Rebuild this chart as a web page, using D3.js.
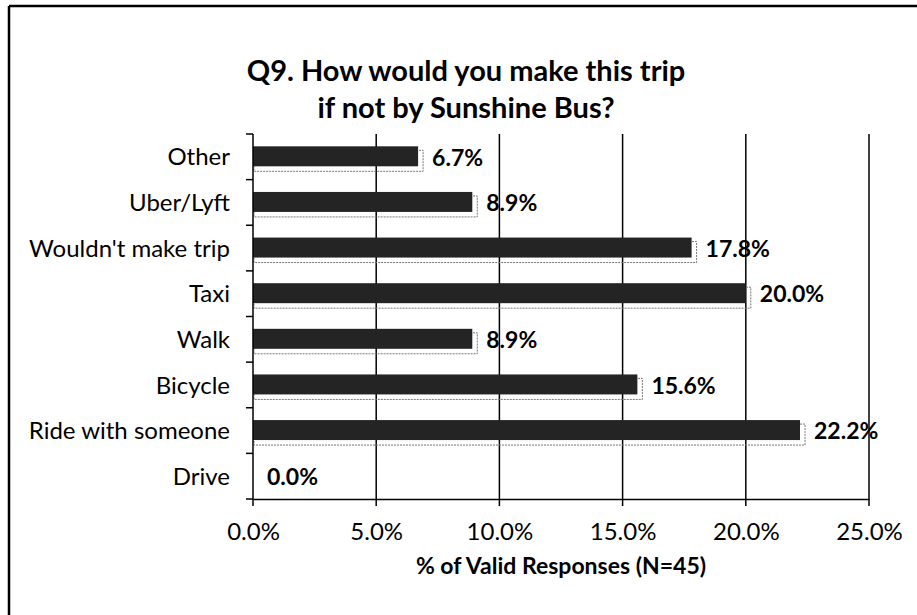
<!DOCTYPE html>
<html>
<head>
<meta charset="utf-8">
<script src="https://cdn.jsdelivr.net/npm/d3@7"></script>
<style>
  body { margin: 0; background: #fff; }
  svg text { font-family: Lato, "Open Sans", sans-serif; fill: #000; }
</style>
</head>
<body>
<div id="chart"></div>
<script>
const categories = ["Other", "Uber/Lyft", "Wouldn't make trip", "Taxi", "Walk", "Bicycle", "Ride with someone", "Drive"];
const values = [6.7, 8.9, 17.8, 20.0, 8.9, 15.6, 22.2, 0.0];
const xTicks = [0, 5, 10, 15, 20, 25];
const titleLines = ["Q9. How would you make this trip", "if not by Sunshine Bus?"];
const xTitle = "% of Valid Responses (N=45)";

const w = 917, h = 615;
const plot = { left: 253, right: 869, top: 134, bottom: 499 };

const svg = d3.select('#chart')
    .append('svg')
    .attr('width', w)
    .attr('height', h);

// chart frame (only top and left edges show in the scan)
svg.append('line')
    .attr('x1', 9).attr('x2', w).attr('y1', 6).attr('y2', 6)
    .attr('stroke', '#000').attr('stroke-width', 2.5);
svg.append('line')
    .attr('x1', 9).attr('x2', 9).attr('y1', 6).attr('y2', h)
    .attr('stroke', '#000').attr('stroke-width', 2.5);

// title
svg.append('text')
    .attr('text-anchor', 'middle')
    .style('font-size', '29px')
    .style('font-weight', 'bold')
    .selectAll('tspan')
    .data(titleLines)
    .enter()
    .append('tspan')
        .attr('x', 466)
        .attr('y', (d, i) => 81 + i * 37)
        .text(d => d);

const x = d3.scaleLinear()
    .domain([0, 25])
    .range([plot.left, plot.right]);

const y = d3.scaleBand()
    .domain(categories)
    .range([plot.top, plot.bottom])
    .paddingInner(0.54)
    .paddingOuter(0.27);

// vertical gridlines (they run a little below the axis as tick marks)
svg.append('g')
    .selectAll('line')
    .data(xTicks.filter(d => d > 0))
    .enter()
    .append('line')
        .attr('x1', d => x(d)).attr('x2', d => x(d))
        .attr('y1', plot.top).attr('y2', plot.bottom + 7)
        .attr('stroke', '#000').attr('stroke-width', 1.5);

// bars: a faint dotted shadow then the dark bar
const bars = svg.append('g')
    .selectAll('g')
    .data(values)
    .enter()
    .append('g');

bars.filter(d => d > 0)
    .append('rect')
        .attr('x', x(0) + 1)
        .attr('y', (d, i) => y(categories[i]) + 4)
        .attr('width', d => x(d) - x(0) + 4)
        .attr('height', y.bandwidth())
        .attr('fill', 'none')
        .attr('stroke', '#777')
        .attr('stroke-width', 1)
        .attr('stroke-dasharray', '2,1');

bars.append('rect')
    .attr('x', x(0))
    .attr('y', (d, i) => y(categories[i]))
    .attr('width', d => x(d) - x(0))
    .attr('height', y.bandwidth() - 1)
    .attr('fill', '#242424');

// value labels
bars.append('text')
    .attr('x', d => x(d) + 14)
    .attr('y', (d, i) => y(categories[i]) + y.bandwidth() / 2)
    .attr('dy', '0.38em')
    .style('font-size', '23px')
    .style('font-weight', 'bold')
    .text(d => d.toFixed(1) + '%');

// y axis
const yAxis = d3.axisLeft(y).tickSize(0).tickPadding(23);
const yG = svg.append('g')
    .attr('transform', `translate(${plot.left}, 0)`)
    .call(yAxis);
yG.select('.domain').remove();
yG.selectAll('text')
    .style('font-size', '24px')
    .attr('dy', '0.36em');

// y axis line with boundary ticks
svg.append('line')
    .attr('x1', plot.left).attr('x2', plot.left)
    .attr('y1', plot.top).attr('y2', plot.bottom + 7)
    .attr('stroke', '#000').attr('stroke-width', 1.5);
const step = (plot.bottom - plot.top) / categories.length;
svg.append('g')
    .selectAll('line')
    .data(d3.range(categories.length + 1))
    .enter()
    .append('line')
        .attr('x1', plot.left - 7).attr('x2', plot.left)
        .attr('y1', d => plot.top + d * step)
        .attr('y2', d => plot.top + d * step)
        .attr('stroke', '#000').attr('stroke-width', 1.5);

// x axis
const xAxis = d3.axisBottom(x)
    .tickValues(xTicks)
    .tickFormat(d => d.toFixed(1) + '%')
    .tickSize(0)
    .tickPadding(24);
const xG = svg.append('g')
    .attr('transform', `translate(0, ${plot.bottom})`)
    .call(xAxis);
xG.select('.domain')
    .attr('stroke', '#000').attr('stroke-width', 1.5);
xG.selectAll('text')
    .style('font-size', '24px');

svg.append('text')
    .attr('x', (plot.left + plot.right) / 2)
    .attr('y', 574)
    .attr('text-anchor', 'middle')
    .style('font-size', '23px')
    .style('font-weight', 'bold')
    .text(xTitle);
</script>
</body>
</html>
